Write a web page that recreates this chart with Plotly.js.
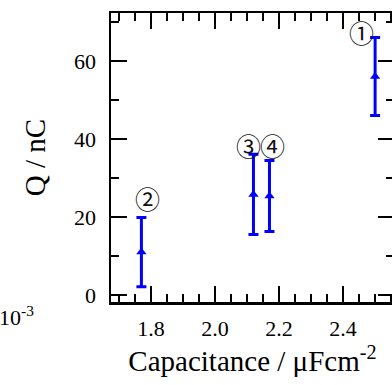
<!DOCTYPE html>
<html>
<head>
<meta charset="utf-8">
<script src="https://cdn.plot.ly/plotly-3.0.1.min.js"></script>
<style>
html,body{margin:0;padding:0;overflow:hidden;background:#fff;}
#chart{width:396px;height:385px;}
</style>
</head>
<body>
<div id="chart"></div>
<script>
// Data
const capacitance = [2.50, 1.77, 2.12, 2.17];
const charge = [56.0, 11.0, 25.8, 25.4];
const chargeErr = [10.0, 8.9, 10.3, 9.1];
const pointLabels = ['①', '②', '③', '④'];
const labelX = [2.459, 1.7875, 2.103, 2.181];
const labelY = [67.4, 24.9, 38.5, 38.5];
const xTickVals = [1.8, 2.0, 2.2, 2.4];
const xTickText = ['1.8', '2.0', '2.2', '2.4'];
const yTickVals = [0, 20, 40, 60];
const yTickText = ['0', '20', '40', '60'];

const serif = 'Liberation Serif';

const trace = {
  x: capacitance,
  y: charge,
  type: 'scatter',
  mode: 'markers',
  marker: {symbol: 'triangle-up', size: 9, color: '#0000FF'},
  error_y: {type: 'data', array: chargeErr, visible: true, color: '#0000FF', thickness: 3, width: 5},
  hoverinfo: 'none',
  showlegend: false
};

const annotations = pointLabels.map((t, i) => ({
  x: labelX[i], y: labelY[i], xref: 'x', yref: 'y',
  text: t, showarrow: false,
  font: {family: 'Noto Sans CJK JP', size: 25, color: '#111'},
  xanchor: 'center', yanchor: 'middle'
}));
annotations.push({
  xref: 'paper', yref: 'paper',
  x: (36 - 111) / 283, y: (302 - 316) / 289,
  text: '10<sup>-3</sup>', showarrow: false,
  xanchor: 'right', yanchor: 'middle',
  font: {family: serif, size: 22, color: '#000'}
});

const axisCommon = {
  showgrid: false, zeroline: false,
  showline: true, linecolor: '#000', linewidth: 2.5,
  mirror: 'ticks',
  ticks: 'inside', ticklen: 16, tickwidth: 2, tickcolor: '#000',
  tickfont: {family: serif, size: 22, color: '#000'},
  fixedrange: true
};

const layout = {
  width: 396, height: 385,
  margin: {l: 111, r: 2, t: 13, b: 83, pad: 0},
  paper_bgcolor: '#fff', plot_bgcolor: '#fff',
  xaxis: Object.assign({}, axisCommon, {
    range: [1.675, 2.559],
    tickmode: 'array', tickvals: xTickVals, ticktext: xTickText,
    minor: {dtick: 0.05, tick0: 1.7, ticks: 'inside', ticklen: 8, tickwidth: 2, tickcolor: '#000', showgrid: false},
    ticklabelstandoff: 5,
    title: {text: 'Capacitance / μFcm<sup>-2</sup>', font: {family: serif, size: 29, color: '#000'}, standoff: 5}
  }),
  yaxis: Object.assign({}, axisCommon, {
    range: [-1.79, 72.3],
    tickmode: 'array', tickvals: yTickVals, ticktext: yTickText,
    minor: {dtick: 10, tick0: 0, ticks: 'inside', ticklen: 8, tickwidth: 2, tickcolor: '#000', showgrid: false},
    ticklabelstandoff: 8,
    title: {text: 'Q / nC', font: {family: serif, size: 29, color: '#000'}, standoff: 20}
  }),
  annotations: annotations
};

Plotly.newPlot('chart', [trace], layout, {displayModeBar: false, staticPlot: true});
</script>
</body>
</html>
